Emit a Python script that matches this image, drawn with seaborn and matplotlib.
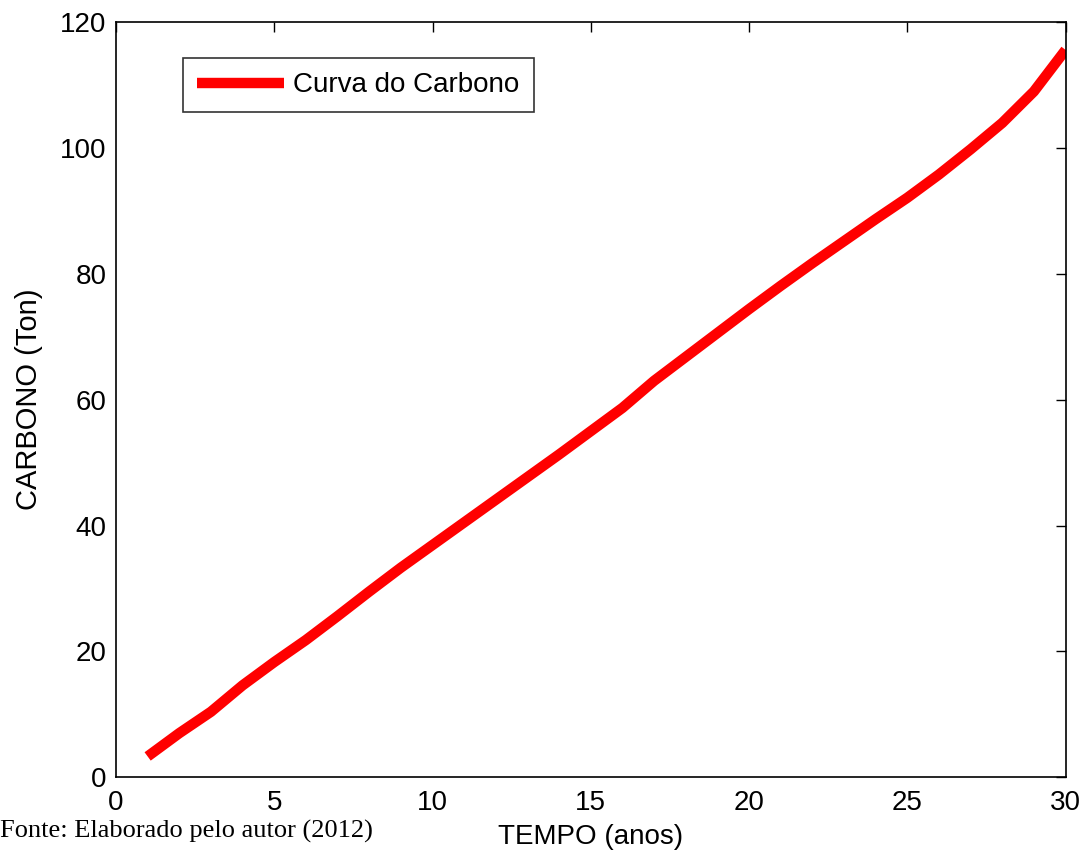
import pandas as pd
import seaborn as sns
import matplotlib.pyplot as plt

# carbon curve
anos = list(range(1, 31))
carbono = [3.3, 7.0, 10.4, 14.6, 18.3, 21.8, 25.6, 29.5, 33.3, 36.9,
           40.5, 44.1, 47.7, 51.3, 55.0, 58.7, 63.0, 66.8, 70.6, 74.4,
           78.1, 81.7, 85.2, 88.7, 92.1, 95.8, 99.8, 104.0, 109.0, 115.6]

sns.set_style("white")
plt.rcParams['font.family'] = ['Liberation Sans', 'DejaVu Sans']
plt.rcParams['text.color'] = 'black'
plt.rcParams['axes.labelcolor'] = 'black'
plt.rcParams['xtick.color'] = 'black'
plt.rcParams['ytick.color'] = 'black'

df = pd.DataFrame({"TEMPO": anos, "CARBONO": carbono})

fig = plt.figure(figsize=(10.84, 8.55), dpi=100)
ax = fig.add_axes([0.107, 0.091, 0.876, 0.883])

sns.lineplot(x="TEMPO", y="CARBONO", data=df, ax=ax, color='#ff0000',
             linewidth=7.5, label='Curva do Carbono', solid_capstyle='butt')

ax.set_xlim(0, 30)
ax.set_ylim(0, 120)
ax.set_xticks([0, 5, 10, 15, 20, 25, 30])
ax.set_yticks([0, 20, 40, 60, 80, 100, 120])
ax.tick_params(direction='in', length=7, width=1, labelsize=20,
               top=True, right=True, pad=7)
ax.tick_params(axis='x', pad=9)
for s in ax.spines.values():
    s.set_color('black')
    s.set_linewidth(1.2)

ax.set_xlabel('TEMPO (anos)', fontsize=20, labelpad=6)
ax.set_ylabel('CARBONO (Ton)', fontsize=21, labelpad=12)

leg = ax.legend(loc='upper left', bbox_to_anchor=(0.0705, 0.952), fontsize=20,
                frameon=True, fancybox=False, handlelength=3.15,
                borderpad=0.5, handletextpad=0.33, borderaxespad=0)
leg.get_frame().set_edgecolor('black')
leg.get_frame().set_linewidth(1.2)

fig.text(0.0, 0.027, 'Fonte: Elaborado pelo autor (2012)', fontsize=19,
         family=['Liberation Serif', 'DejaVu Serif'], ha='left', va='center')

plt.savefig('out.png', dpi=100)
